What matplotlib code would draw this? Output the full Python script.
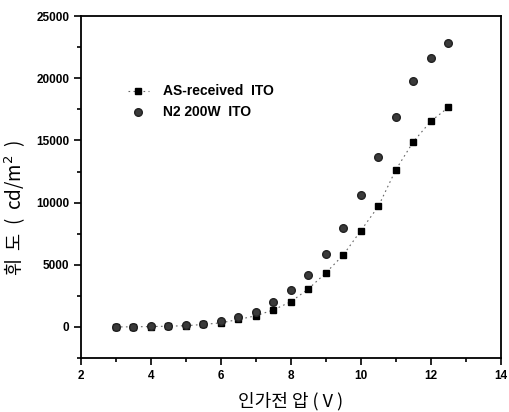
import matplotlib.pyplot as plt
from matplotlib.ticker import MultipleLocator

plt.rcParams['font.family'] = ['Liberation Sans', 'Noto Sans CJK KR', 'DejaVu Sans']

# 인가전압 (V)
voltage = [3, 3.5, 4, 4.5, 5, 5.5, 6, 6.5, 7, 7.5, 8, 8.5, 9, 9.5, 10, 10.5, 11, 11.5, 12, 12.5]
# 휘도 (cd/m2)
as_received = [0, 10, 30, 60, 100, 200, 330, 600, 900, 1370, 2030, 3060, 4350, 5800,
               7750, 9700, 12650, 14900, 16550, 17650]
n2_200w = [0, 10, 40, 70, 120, 250, 450, 800, 1200, 2030, 2980, 4200, 5900, 7980,
           10650, 13700, 16850, 19750, 21600, 22850]

fig = plt.figure(figsize=(5.09, 4.12), dpi=100)
ax = fig.add_axes([0.159, 0.131, 0.825, 0.830])

ax.plot(voltage, as_received, linestyle=(0, (1.5, 3)), color='#666666', linewidth=0.8,
        marker='s', markersize=5, markerfacecolor='black', markeredgecolor='black',
        label='AS-received  ITO')
ax.plot(voltage, n2_200w, linestyle='none', marker='o', markersize=5.5,
        markerfacecolor='#3a3a3a', markeredgecolor='#222222',
        label='N2 200W  ITO')

ax.set_xlim(2, 14)
ax.set_ylim(-2500, 25000)
ax.xaxis.set_major_locator(MultipleLocator(2))
ax.xaxis.set_minor_locator(MultipleLocator(1))
ax.yaxis.set_major_locator(MultipleLocator(5000))
ax.yaxis.set_minor_locator(MultipleLocator(2500))
ax.tick_params(which='both', direction='out', top=False, right=False, width=1.2)
ax.tick_params(which='major', length=5)
ax.tick_params(which='minor', length=3)
for lab in ax.get_xticklabels() + ax.get_yticklabels():
    lab.set_fontweight('bold')
    lab.set_fontsize(8.5)
for sp in ax.spines.values():
    sp.set_linewidth(1.3)

kfont = ['Noto Sans CJK KR', 'DejaVu Sans']
ax.set_xlabel('인가전 압 ( V )', fontsize=13, family=kfont)
ax.set_ylabel('휘  도  (  cd/m$^2$  )', fontsize=13.5, family=kfont)
ax.xaxis.set_label_coords(0.5, -0.1)
ax.yaxis.set_label_coords(-0.125, 0.44)

ax.legend(loc='upper left', bbox_to_anchor=(0.112, 0.80), frameon=False,
          prop={'weight': 'bold', 'size': 10}, handlelength=1.5, handletextpad=1.0,
          labelspacing=0.5, borderpad=0, borderaxespad=0)

fig.savefig('out.png', dpi=100)
